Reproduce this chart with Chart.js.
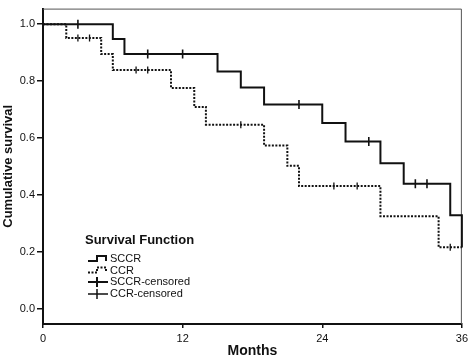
<!DOCTYPE html>
<html>
<head>
<meta charset="utf-8">
<script src="https://cdn.jsdelivr.net/npm/chart.js@4/dist/chart.umd.min.js"></script>
<style>
  body { margin: 0; background: #fff; }
  #wrap { width: 472px; height: 360px; }
</style>
</head>
<body>
<div id="wrap"><canvas id="km" width="472" height="360"></canvas></div>
<script>
// step points of each curve (month, survival)
const sccrTimes = [0, 6, 7, 15, 17, 19, 24, 26, 29, 31, 35, 36];
const sccrSurv  = [1.0, 0.948, 0.895, 0.834, 0.778, 0.718, 0.653, 0.588, 0.511, 0.439, 0.328, 0.215];
const ccrTimes  = [0, 2, 5, 6, 11, 13, 14, 19, 21, 22, 29, 34, 36];
const ccrSurv   = [1.0, 0.952, 0.895, 0.839, 0.776, 0.709, 0.647, 0.574, 0.502, 0.431, 0.325, 0.216, 0.216];

// censored cases
const sccrCensTimes = [3, 9, 12, 22, 28, 32, 33];
const sccrCensSurv  = [1.0, 0.895, 0.895, 0.718, 0.588, 0.439, 0.439];
const ccrCensTimes  = [3, 4, 8, 9, 17, 25, 27, 35];
const ccrCensSurv   = [0.952, 0.952, 0.839, 0.839, 0.647, 0.431, 0.431, 0.216];

const xTicks = [0, 12, 24, 36];
const yTicks = [0.0, 0.2, 0.4, 0.6, 0.8, 1.0];
const legendTitle = 'Survival Function';
const legendLabels = ['SCCR', 'CCR', 'SCCR-censored', 'CCR-censored'];

const FONT = "Arial, 'Liberation Sans', sans-serif";
const INK = '#111';

function pts(xs, ys) {
  return xs.map((x, i) => ({x: x, y: ys[i]}));
}

// frame on top/right + legend block inside the plot
const kmExtras = {
  id: 'kmExtras',
  beforeDatasetsDraw(chart) {
    const c = chart.ctx;
    const a = chart.chartArea;
    c.save();
    c.strokeStyle = '#555';
    c.lineWidth = 1;
    c.beginPath();
    c.moveTo(a.left, a.top + 0.5);
    c.lineTo(a.right - 0.5, a.top + 0.5);
    c.lineTo(a.right - 0.5, a.bottom);
    c.stroke();
    c.restore();
  },
  afterDraw(chart) {
    const c = chart.ctx;
    c.save();
    c.fillStyle = INK;
    c.strokeStyle = INK;
    c.textBaseline = 'middle';
    c.textAlign = 'left';
    c.font = 'bold 13px ' + FONT;
    c.fillText(legendTitle, 85, 240);

    c.font = '11px ' + FONT;
    const rows = [259, 270.5, 282, 294];
    legendLabels.forEach((t, i) => c.fillText(t, 110, rows[i]));

    // SCCR step symbol
    c.lineWidth = 2;
    c.setLineDash([]);
    c.beginPath();
    c.moveTo(88, 261); c.lineTo(97, 261); c.lineTo(97, 256);
    c.lineTo(106, 256); c.lineTo(106, 261);
    c.stroke();
    // CCR dotted step
    c.setLineDash([2, 1.5]);
    c.beginPath();
    c.moveTo(88, 272.5); c.lineTo(97, 272.5); c.lineTo(97, 267.5);
    c.lineTo(106, 267.5); c.lineTo(106, 272.5);
    c.stroke();
    c.setLineDash([]);
    // censored symbols
    c.lineWidth = 2;
    c.beginPath();
    c.moveTo(88, 282); c.lineTo(108, 282);
    c.moveTo(97, 277); c.lineTo(97, 287);
    c.stroke();
    c.lineWidth = 1.5;
    c.beginPath();
    c.moveTo(88, 294); c.lineTo(108, 294);
    c.moveTo(97, 289); c.lineTo(97, 299);
    c.stroke();
    c.restore();
  }
};

new Chart(document.getElementById('km').getContext('2d'), {
  type: 'line',
  data: {
    datasets: [
      {
        label: 'SCCR',
        data: pts(sccrTimes, sccrSurv),
        stepped: true,
        borderColor: INK,
        borderWidth: 2,
        pointRadius: 0,
        clip: 4,
        fill: false
      },
      {
        label: 'CCR',
        data: pts(ccrTimes, ccrSurv),
        stepped: true,
        borderColor: INK,
        borderWidth: 2,
        borderDash: [2, 1.5],
        pointRadius: 0,
        clip: 4,
        fill: false
      },
      {
        label: 'SCCR-censored',
        type: 'scatter',
        data: pts(sccrCensTimes, sccrCensSurv),
        showLine: false,
        pointStyle: 'line',
        rotation: 90,
        pointRadius: 4.5,
        pointBorderWidth: 1.6,
        borderColor: INK
      },
      {
        label: 'CCR-censored',
        type: 'scatter',
        data: pts(ccrCensTimes, ccrCensSurv),
        showLine: false,
        pointStyle: 'line',
        rotation: 90,
        pointRadius: 3.5,
        pointBorderWidth: 1.3,
        borderColor: INK
      }
    ]
  },
  options: {
    responsive: false,
    animation: false,
    devicePixelRatio: 1,
    layout: { padding: { top: 2, right: 6, left: 0, bottom: 0 } },
    plugins: {
      legend: { display: false },
      tooltip: { enabled: false }
    },
    scales: {
      x: {
        type: 'linear',
        min: 0,
        max: 36,
        afterBuildTicks: s => { s.ticks = xTicks.map(v => ({value: v})); },
        afterFit: s => { s.height = 36; },
        border: { color: INK, width: 2 },
        grid: { drawOnChartArea: false, color: INK, tickLength: 4, lineWidth: 1.5 },
        ticks: { color: INK, padding: 4, maxRotation: 0, font: { family: FONT, size: 11 } },
        title: {
          display: true,
          text: 'Months',
          color: INK,
          padding: { top: 0, bottom: 0 },
          font: { family: FONT, size: 14, weight: 'bold' }
        }
      },
      y: {
        min: -0.054,
        max: 1.055,
        afterBuildTicks: s => { s.ticks = yTicks.map(v => ({value: v})); },
        afterFit: s => { s.width = 43; },
        border: { color: INK, width: 2 },
        grid: { drawOnChartArea: false, color: INK, tickLength: 6, lineWidth: 1.5 },
        ticks: {
          color: INK,
          padding: 2,
          font: { family: FONT, size: 11 },
          callback: v => v.toFixed(1)
        },
        title: {
          display: true,
          text: 'Cumulative survival',
          color: INK,
          padding: { top: 1, bottom: 0 },
          font: { family: FONT, size: 13, weight: 'bold' }
        }
      }
    }
  },
  plugins: [kmExtras]
});
</script>
</body>
</html>
